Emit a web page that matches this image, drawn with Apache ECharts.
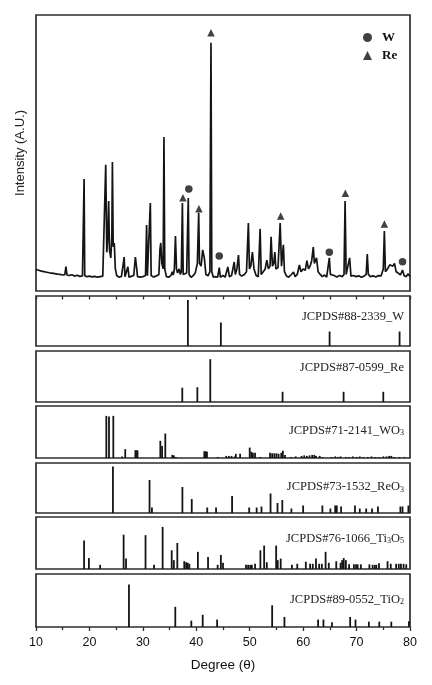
<!DOCTYPE html>
<html>
<head>
<meta charset="utf-8">
<script src="https://cdn.jsdelivr.net/npm/echarts@6/dist/echarts.min.js"></script>
<style>
html,body{margin:0;padding:0;background:#fff;}
#c{width:432px;height:685px;}
</style>
</head>
<body>
<div id="c"></div>
<script>
// ---------- DATA ----------
const xTicks = [10, 20, 30, 40, 50, 60, 70, 80];

// measured XRD pattern: [2theta, intensity (A.U.)]
const pattern = [
[10.0,7.8],[10.5,7.5],[11,7.2],[11.5,7.0],[12,6.8],[12.5,6.6],[13,6.5],[13.5,6.3],[14,6.1],[14.5,6.0],[15,5.8],[15.4,5.9],[15.6,8.8],[15.8,5.8],[16.2,5.6],[16.7,5.9],[17.2,5.4],[17.7,5.7],[18.2,5.3],[18.7,5.5],[18.9,5.6],[19.0,40.6],[19.12,5.5],[19.5,5.2],[20,5.4],[20.5,5.1],[21,5.3],[21.5,5.0],[22,5.2],[22.5,5.4],[22.85,6],[23.05,45.7],[23.25,14],[23.45,20],[23.6,32.6],[23.75,15],[24.0,12],[24.2,20],[24.3,46.7],[24.45,16],[24.65,17.4],[24.85,8],[25.1,5.6],[25.5,5.0],[26,5.3],[26.35,5.5],[26.5,12.3],[26.65,5.2],[27.0,5.4],[27.2,8.8],[27.4,5.0],[27.8,5.3],[28.3,5.6],[28.6,12.3],[28.8,9],[29.0,5.2],[29.5,5.0],[30,5.2],[30.5,5.6],[30.7,23.9],[30.85,5.5],[31.2,5.4],[31.4,31.9],[31.55,5.6],[32,5.1],[32.5,5.4],[33.0,6],[33.2,15],[33.35,17.4],[33.55,10],[33.8,8],[33.95,55.8],[34.1,8],[34.4,5.2],[34.9,5.0],[35.3,5.8],[35.5,7],[35.7,5.8],[35.9,8],[36.1,19.9],[36.3,8],[36.5,6.5],[36.8,8],[37.0,6],[37.2,7],[37.4,31.9],[37.55,6],[37.8,5.4],[38.2,6.5],[38.5,33.7],[38.65,6],[39.0,5.0],[39.4,5.5],[39.8,6.5],[40.2,10],[40.45,28.3],[40.6,10],[40.9,9],[41.2,14.9],[41.5,12],[41.8,6],[42.2,5.5],[42.55,7],[42.75,89.9],[42.9,7],[43.2,5.0],[43.6,5.2],[44.0,5.0],[44.3,8.5],[44.5,5.0],[45.0,5.6],[45.4,5.0],[45.9,8.7],[46.2,5.2],[46.6,5.6],[47.1,10.5],[47.3,6],[47.6,8],[47.9,13],[48.1,6],[48.5,5.4],[49.0,6],[49.4,7],[49.75,24.6],[49.95,8],[50.2,9],[50.5,14.1],[50.8,8],[51.2,5.6],[51.6,5.2],[51.95,22.5],[52.15,6],[52.5,5.6],[52.9,8],[53.2,11.2],[53.5,8],[53.8,9],[54.0,19.6],[54.25,9],[54.5,10],[54.7,14.1],[54.9,8],[55.3,8.5],[55.7,24.6],[55.95,9],[56.3,16.7],[56.5,7],[56.9,5.4],[57.3,5.0],[57.7,5.8],[58.2,6.9],[58.5,5.2],[58.9,6],[59.3,9.4],[59.6,7],[60.0,8],[60.4,7.5],[60.7,11],[61.0,8],[61.3,9],[61.6,11],[61.9,15.9],[62.1,10],[62.5,12],[62.8,7],[63.2,6],[63.6,5.2],[64.0,5.8],[64.4,5.0],[64.9,12],[65.1,6],[65.4,5.4],[65.8,5.6],[66.3,5.1],[66.8,5.6],[67.3,5.2],[67.65,6],[67.85,32.6],[68.05,6],[68.4,5.5],[68.7,12],[68.95,5.4],[69.4,5.6],[69.9,5.2],[70.4,5.5],[70.9,5.0],[71.4,5.4],[71.8,6],[72.0,13.4],[72.2,6],[72.6,5.2],[73.1,5.5],[73.6,5.1],[74.1,5.6],[74.6,5.5],[75.0,8],[75.2,21.7],[75.4,7],[75.8,8],[76.2,9.5],[76.5,10],[76.8,9],[77.1,10],[77.4,7],[77.8,6.5],[78.2,5.8],[78.6,7.6],[78.9,5.5],[79.3,5.2],[79.6,6.2],[80,5.3]
];

// phase markers above peaks: [2theta, marker height]
const wMarkers  = [[38.6,37],[44.3,12.7],[64.9,14],[78.6,10.6]];
const reMarkers = [[37.5,33.8],[40.5,29.8],[42.75,93.6],[55.8,27.2],[67.9,35.4],[75.2,24.3]];

// reference card sticks: [2theta, relative intensity]
const cardW = [[38.43,92],[44.6,47],[64.95,29],[78.05,29]];
const cardRe = [[37.38,28],[40.2,29],[42.62,84],[56.15,20],[67.57,20],[75.0,20]];
const cardWO3 = [[23.16,81],[23.66,80],[24.47,81],[26.1,3],[26.7,17],[28.6,15],[28.9,15],[29.0,14],[33.27,33],[33.6,23],[34.2,47],[35.5,6],[35.8,5],[36.2,2],[41.5,13],[41.8,13],[42.0,12],[44.0,2],[45.6,4],[46.1,4],[46.6,4],[47.2,3],[47.4,8],[48.2,8],[50.0,20],[50.3,12],[50.6,10],[51.0,10],[52.0,2],[53.8,10],[54.2,9],[54.6,9],[55.0,9],[55.4,8],[55.9,10],[56.2,14],[56.6,6],[57.7,2],[58.6,3],[59.7,4],[60.2,5],[60.7,4],[61.2,5],[61.7,6],[62.1,6],[62.4,4],[63.1,4],[63.6,2],[65.3,2],[66.0,3],[66.5,2],[67.0,3],[68.0,2],[68.6,2],[69.3,3],[70.0,2],[70.6,3],[71.3,2],[72.1,2],[72.8,3],[73.5,2],[74.2,2],[75.0,3],[75.6,3],[76.1,4],[76.5,4],[77.0,2],[78.0,2],[79.0,2]];
const cardReO3 = [[24.4,93],[31.25,66],[31.7,11],[37.4,52],[39.15,28],[42.05,11],[43.7,11],[46.7,34],[49.9,11],[51.3,11],[52.2,13],[53.9,39],[55.2,20],[56.1,26],[57.8,9],[60.0,15],[63.6,15],[65.1,9],[66.0,15],[66.3,15],[67.1,13],[69.7,15],[70.6,9],[71.8,9],[72.9,9],[74.0,13],[78.2,13],[78.6,13],[79.7,15]];
const cardTi3O5 = [[19.0,55],[19.9,21],[22.0,8],[26.4,66],[26.85,20],[30.5,65],[32.1,8],[33.7,81],[35.4,36],[35.8,17],[36.45,50],[37.75,15],[38.1,13],[38.4,12],[38.7,10],[40.3,33],[42.2,23],[44.0,8],[44.6,27],[45.0,12],[49.3,8],[49.7,8],[50.1,8],[50.4,8],[51.0,10],[52.0,36],[52.7,45],[53.2,13],[54.95,45],[55.25,17],[55.8,20],[57.9,8],[58.9,10],[60.5,14],[61.3,10],[61.8,10],[62.4,20],[63.0,10],[63.5,10],[64.2,33],[64.8,12],[66.2,15],[67.0,12],[67.3,17],[67.6,21],[68.0,17],[68.6,9],[69.5,9],[69.9,9],[70.2,9],[70.8,9],[72.4,9],[73.0,8],[73.4,8],[73.7,8],[74.2,11],[75.8,15],[76.4,10],[77.4,10],[77.9,10],[78.3,10],[78.8,10],[79.3,9]];
const cardTiO2 = [[27.4,80],[36.07,38],[39.07,12],[41.2,23],[43.9,14],[54.2,41],[56.5,19],[62.8,14],[63.8,14],[65.4,9],[68.8,19],[69.8,14],[72.3,10],[74.25,10],[76.5,10],[79.8,11]];

const cards = [cardW, cardRe, cardWO3, cardReO3, cardTi3O5, cardTiO2];
const cardLabels = [
  'JCPDS#88-2339_W',
  'JCPDS#87-0599_Re',
  'JCPDS#71-2141_WO{s|3}',
  'JCPDS#73-1532_ReO{s|3}',
  'JCPDS#76-1066_Ti{s|3}O{s|5}',
  'JCPDS#89-0552_TiO{s|2}'
];

// ---------- LAYOUT ----------
const L = 36, R = 22;
const panels = [
  {top: 15, h: 276},
  {top: 296, h: 50},
  {top: 351, h: 51},
  {top: 406, h: 52},
  {top: 463, h: 50},
  {top: 517, h: 52},
  {top: 574, h: 53}
];
const labelY = [318, 369.5, 432, 488.5, 540, 601];

const INK = '#141414';
const BORDER = '#2e2e2e';

const grids = panels.map(p => ({
  left: L, right: R, top: p.top, height: p.h,
  show: true, borderColor: BORDER, borderWidth: 1.7, backgroundColor: 'transparent'
}));

const xAxes = panels.map((p, i) => {
  const base = {type: 'value', gridIndex: i, min: 10, max: 80, interval: 10,
    splitLine: {show: false}, axisLine: {show: false, onZero: false}};
  if (i === 6) {
    return Object.assign(base, {
      axisTick: {show: true, inside: false, length: 4, lineStyle: {color: BORDER, width: 1.3}},
      minorTick: {show: true, splitNumber: 2, length: 3, lineStyle: {color: BORDER, width: 1.3}},
      minorSplitLine: {show: false},
      axisLabel: {show: true, color: '#111', fontFamily: 'Liberation Sans, Arial, sans-serif', fontSize: 12.5, margin: 9,
        customValues: xTicks},
      name: 'Degree (\u03b8)', nameLocation: 'middle', nameGap: 31,
      nameTextStyle: {color: '#111', fontFamily: 'Liberation Sans, Arial, sans-serif', fontSize: 13.5}
    });
  }
  if (i === 1) {
    return Object.assign(base, {
      position: 'top', interval: 5,
      axisTick: {show: true, inside: true, length: 3.5, lineStyle: {color: BORDER, width: 1.3}},
      axisLabel: {show: false}
    });
  }
  return Object.assign(base, {axisTick: {show: false}, axisLabel: {show: false}});
});

const yAxes = panels.map((p, i) => {
  const base = {type: 'value', gridIndex: i, min: 0, max: 100,
    splitLine: {show: false}, axisLine: {show: false}, axisTick: {show: false}, axisLabel: {show: false}};
  if (i === 0) {
    return Object.assign(base, {
      name: 'Intensity (A.U.)', nameLocation: 'middle', nameGap: 9,
      nameTextStyle: {color: '#222', fontFamily: 'Liberation Sans, Arial, sans-serif', fontSize: 13}
    });
  }
  return base;
});

function stickRender(params, api) {
  const x = api.value(0), y = api.value(1);
  const p0 = api.coord([x, 0]);
  const p1 = api.coord([x, y]);
  return {type: 'line', shape: {x1: p0[0], y1: p0[1], x2: p1[0], y2: p1[1]},
    style: {stroke: INK, lineWidth: 1.8}};
}

const series = [
  {type: 'line', xAxisIndex: 0, yAxisIndex: 0, data: pattern, showSymbol: false,
   symbol: 'none', lineStyle: {color: INK, width: 1.7}, silent: true, animation: false},
  {name: 'W', type: 'scatter', xAxisIndex: 0, yAxisIndex: 0, data: wMarkers, symbol: 'circle',
   symbolSize: 7.5, itemStyle: {color: '#111'}, animation: false},
  {name: 'Re', type: 'scatter', xAxisIndex: 0, yAxisIndex: 0, data: reMarkers, symbol: 'triangle',
   symbolSize: 7.5, itemStyle: {color: '#111'}, animation: false}
];
cards.forEach((c, k) => {
  series.push({type: 'custom', xAxisIndex: k + 1, yAxisIndex: k + 1, data: c,
    renderItem: stickRender, encode: {x: 0, y: 1}, animation: false, silent: true});
});

const graphics = cardLabels.map((t, k) => ({
  type: 'text', right: 28, top: labelY[k] - 8,
  style: {
    text: t, fill: '#222', font: '12.5px "Liberation Serif", "Times New Roman", serif',
    rich: {s: {fontSize: 8, fontFamily: 'Liberation Serif', fill: '#222', verticalAlign: 'bottom', padding: [4, 0, 0, 0]}}
  }
}));

const option = {
  backgroundColor: '#fff',
  animation: false,
  grid: grids,
  xAxis: xAxes,
  yAxis: yAxes,
  legend: {
    data: ['W', 'Re'], orient: 'vertical', left: 358, top: 26, itemGap: 5,
    itemWidth: 9, itemHeight: 9,
    textStyle: {color: '#111', fontFamily: 'Liberation Serif, Times New Roman, serif', fontWeight: 'bold', fontSize: 13, padding: [0, 0, 0, 5]}
  },
  graphic: graphics,
  series: series
};

const chart = echarts.init(document.getElementById('c'), null, {renderer: 'canvas'});
chart.setOption(option);
</script>
</body>
</html>
